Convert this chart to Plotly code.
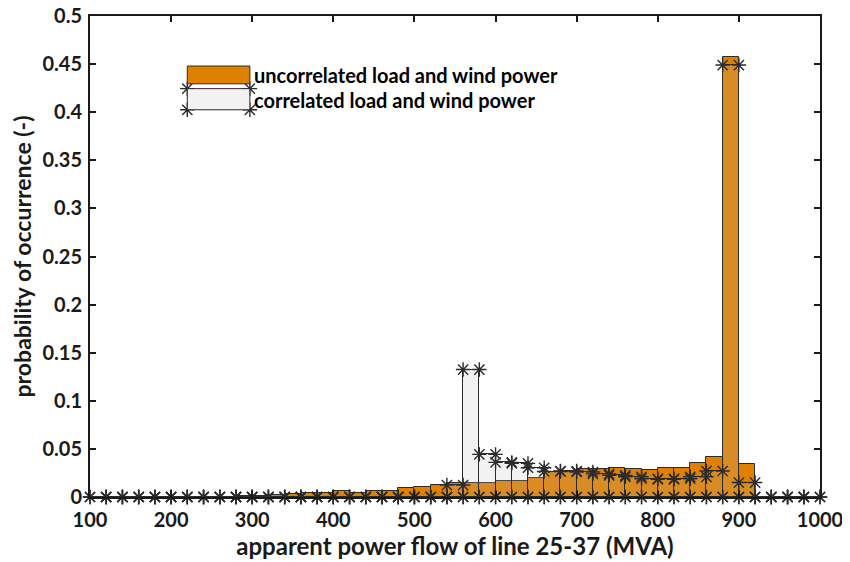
import plotly.graph_objects as go

# ---- data ----
bin_left = list(range(100, 1000, 20))  # 45 bins, width 20 MVA
bin_width = 20

uncorrelated = {
    260: 0.0005, 280: 0.001, 300: 0.0015, 320: 0.002, 340: 0.003, 360: 0.0045,
    380: 0.004, 400: 0.006, 420: 0.0045, 440: 0.0065, 460: 0.0065, 480: 0.0093,
    500: 0.0107, 520: 0.0128, 540: 0.0142, 560: 0.0145, 580: 0.0149, 600: 0.0166,
    620: 0.0166, 640: 0.0194, 660: 0.0256, 680: 0.0263, 700: 0.029, 720: 0.0287,
    740: 0.0304, 760: 0.0287, 780: 0.0277, 800: 0.030, 820: 0.0297, 840: 0.0349,
    860: 0.0411, 880: 0.4575, 900: 0.0339,
}
correlated = {
    540: 0.0124, 560: 0.1325, 580: 0.0443, 600: 0.036, 620: 0.035, 640: 0.0304,
    660: 0.0265, 680: 0.027, 700: 0.026, 720: 0.024, 740: 0.0225, 760: 0.021,
    780: 0.019, 800: 0.0183, 820: 0.019, 840: 0.021, 860: 0.027, 880: 0.449,
    900: 0.015,
}
uncorr_vals = [uncorrelated.get(b, 0.0) for b in bin_left]
corr_vals = [correlated.get(b, 0.0) for b in bin_left]

x_ticks = list(range(100, 1001, 100))
y_ticks = [0, 0.05, 0.1, 0.15, 0.2, 0.25, 0.3, 0.35, 0.4, 0.45, 0.5]
y_tick_labels = ["0", "0.05", "0.1", "0.15", "0.2", "0.25", "0.3", "0.35", "0.4", "0.45", "0.5"]

legend_labels = ["uncorrelated load and wind power", "correlated load and wind power"]

# ---- styles ----
ORANGE = "#E08000"
GRAY_FILL = "rgba(190,190,190,0.2)"
EDGE = "#2b2b2b"
TXT = "#1a1a1a"
FONT = "Lato"

centers = [b + bin_width / 2 for b in bin_left]

fig = go.Figure()
fig.add_trace(go.Bar(
    x=centers, y=uncorr_vals, width=bin_width,
    marker=dict(color=ORANGE, line=dict(color=EDGE, width=1)),
    showlegend=False, hoverinfo="skip",
))
fig.add_trace(go.Bar(
    x=centers, y=corr_vals, width=bin_width,
    marker=dict(color=GRAY_FILL, line=dict(color=EDGE, width=1)),
    showlegend=False, hoverinfo="skip",
))

# asterisk markers at the vertices of each correlated bar
mx, my = [], []
for b, v in zip(bin_left, corr_vals):
    mx += [b, b, b + bin_width, b + bin_width]
    my += [0, v, v, 0]
fig.add_trace(go.Scatter(
    x=mx, y=my, mode="markers", cliponaxis=False,
    marker=dict(symbol="asterisk-open", size=12, color=EDGE, line=dict(color=EDGE, width=1.4)),
    showlegend=False, hoverinfo="skip",
))

# custom legend (MATLAB style)
lx0, lx1 = 0.1333, 0.2190
fig.add_shape(type="rect", xref="paper", yref="paper", x0=lx0, x1=lx1, y0=0.859, y1=0.896,
              fillcolor=ORANGE, line=dict(color=EDGE, width=1))
fig.add_shape(type="rect", xref="paper", yref="paper", x0=lx0, x1=lx1, y0=0.805, y1=0.849,
              fillcolor="#F2F2F2", line=dict(color=EDGE, width=1))
fig.add_trace(go.Scatter(
    x=[lx0, lx1, lx0, lx1], y=[0.849, 0.849, 0.805, 0.805], xaxis="x2", yaxis="y2",
    mode="markers", cliponaxis=False,
    marker=dict(symbol="asterisk-open", size=12, color=EDGE, line=dict(color=EDGE, width=1.4)),
    showlegend=False, hoverinfo="skip",
))
fig.add_annotation(xref="paper", yref="paper", x=lx1 + 0.003, y=0.877, text=legend_labels[0],
                   showarrow=False, xanchor="left", yanchor="middle",
                   font=dict(family=FONT, size=20, color="#000000", weight="bold"))
fig.add_annotation(xref="paper", yref="paper", x=lx1 + 0.003, y=0.825, text=legend_labels[1],
                   showarrow=False, xanchor="left", yanchor="middle",
                   font=dict(family=FONT, size=20, color="#000000", weight="bold"))

axis_common = dict(
    showline=True, linecolor=TXT, linewidth=2, mirror="ticks",
    ticks="inside", ticklen=6, tickwidth=1.5, tickcolor=TXT,
    showgrid=False, zeroline=False, automargin=False, ticklabeloverflow="allow",
    tickfont=dict(family=FONT, size=20, color=TXT, weight="bold"),
)

fig.update_layout(
    width=850, height=562,
    margin=dict(l=82, r=38, t=8, b=73, autoexpand=False),
    paper_bgcolor="white", plot_bgcolor="white",
    barmode="overlay", bargap=0,
    xaxis=dict(range=[100, 1000], tickvals=x_ticks, ticklabelstandoff=4,
               title=dict(text="apparent power flow of line 25-37 (MVA)", standoff=2,
                          font=dict(family=FONT, size=24, color=TXT, weight="bold")),
               **axis_common),
    yaxis=dict(range=[0, 0.5], tickvals=y_ticks, ticktext=y_tick_labels, ticklabelstandoff=2,
               title=dict(text="probability of occurrence (-)", standoff=6,
                          font=dict(family=FONT, size=23, color=TXT, weight="bold")),
               **axis_common),
    xaxis2=dict(range=[0, 1], overlaying="x", visible=False, anchor="y2"),
    yaxis2=dict(range=[0, 1], overlaying="y", visible=False, anchor="x2"),
)

fig.write_html("out.html")
